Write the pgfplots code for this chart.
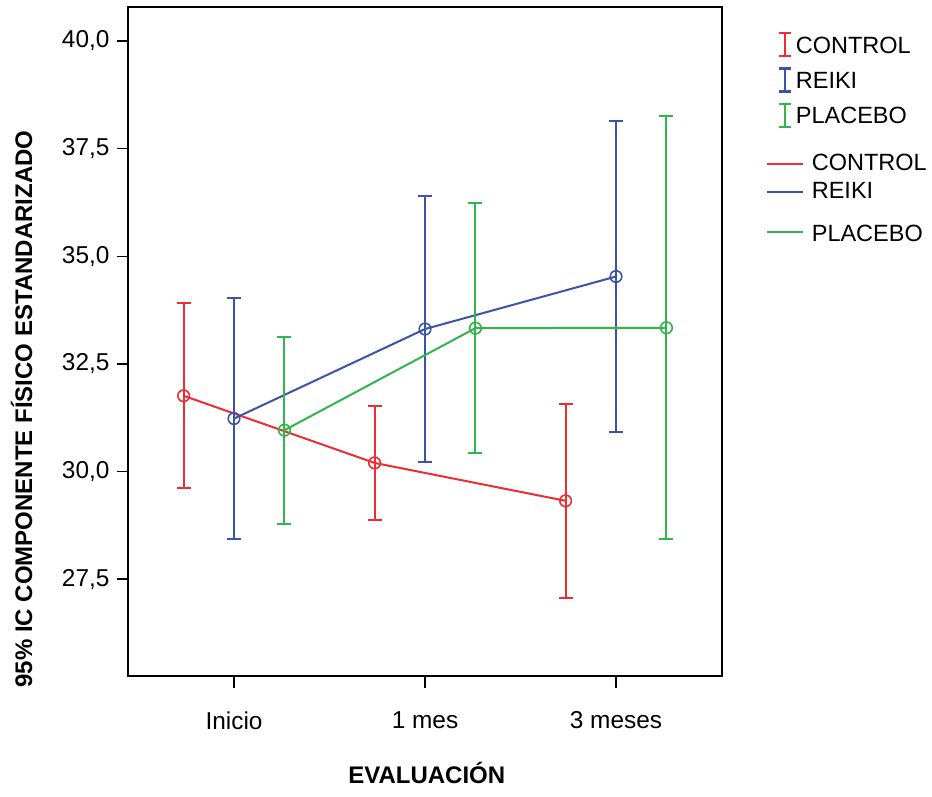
\documentclass[border=0pt]{standalone}
\usepackage{fontspec}
\setmainfont{Liberation Sans}
\usepackage{pgfplots}
\usepackage{pgfplotstable}
\pgfplotsset{compat=1.18}

\definecolor{cred}{RGB}{237,45,52}
\definecolor{cblue}{RGB}{60,84,165}
\definecolor{cgreen}{RGB}{48,182,74}

% media e IC 95% (semiamplitud)
\pgfplotstableread{
x      y     e
-0.264 31.76 2.15
0.736  30.20 1.33
1.736  29.32 2.25
}\control
\pgfplotstableread{
x      y     e
0      31.23 2.79
1      33.31 3.08
2      34.53 3.61
}\reiki
\pgfplotstableread{
x      y     e
0.264  30.96 2.17
1.264  33.33 2.90
2.264  33.34 4.91
}\placebo

\pgfplotsset{
  ebimage/.style={legend image code/.code={
    \draw[##1] (0pt,-5.75pt) -- (0pt,5.75pt);
    \draw[##1] (-3pt,-5.75pt) -- (3pt,-5.75pt);
    \draw[##1] (-3pt,5.75pt) -- (3pt,5.75pt);
    \path (4pt,0pt);}},
  lnimage/.style={legend image code/.code={
    \draw[##1] (0pt,0pt) -- (18pt,0pt);
    \path (21pt,0pt);}},
  lnimagelow/.style={legend image code/.code={
    \draw[##1] (0pt,-2.25pt) -- (18pt,-2.25pt);
    \path (21pt,2.25pt);}},
  serie/.style={forget plot, color=#1, line width=1pt, mark=o, mark size=2.9pt,
    mark options={solid, line width=0.8pt},
    error bars/.cd, y dir=both, y explicit,
    error bar style={line width=1pt},
    error mark options={rotate=90, mark size=3.5pt, line width=1pt},
    /pgfplots/.cd},
  leg/.style={draw=none, fill=none, inner sep=0pt,
    font=\fontsize{11.75}{14}\selectfont, cells={anchor=west}},
}

\begin{document}
\begin{tikzpicture}
\begin{axis}[
  scale only axis, width=297pt, height=334.5pt,
  xmin=-0.555, xmax=2.555, ymin=25.25, ymax=40.79,
  xtick={0,1,2}, xticklabels={Inicio,1 mes,3 meses},
  ytick={27.5,30,32.5,35,37.5,40},
  xtick pos=bottom, ytick pos=left, tick align=outside,
  major tick length=5.75pt,
  every tick/.style={black, line width=0.7pt},
  axis line style={line width=0.9pt},
  /pgf/number format/.cd, fixed, fixed zerofill, precision=1, use comma,
    assume math mode=true, /pgfplots/.cd,
  tick label style={font=\fontsize{12.2}{14}\selectfont},
  xticklabel style={yshift=-8.5pt},
  xlabel={EVALUACIÓN},
  ylabel={95\% IC COMPONENTE FÍSICO ESTANDARIZADO},
  every axis x label/.style={at={(axis description cs:0.503,-0.160)}, anchor=base,
    font=\fontsize{12}{14}\selectfont\bfseries},
  every axis y label/.style={at={(axis description cs:-0.1616,0.399)}, rotate=90, anchor=base,
    font=\fontsize{12}{14}\selectfont\bfseries},
  legend style={leg, nodes={inner sep=1pt, text height=8.5pt, text depth=0pt},
    at={(axis description cs:1.093,0.963)}, anchor=north west, row sep=5pt},
  clip=false,
]
\addplot[serie=cred] table[x=x, y=y, y error=e] {\control};
\addplot[serie=cblue] table[x=x, y=y, y error=e] {\reiki};
\addplot[serie=cgreen] table[x=x, y=y, y error=e] {\placebo};
\addlegendimage{ebimage, cred, line width=1.1pt}
\addlegendentry{CONTROL}
\addlegendimage{ebimage, cblue, line width=1.1pt}
\addlegendentry{REIKI}
\addlegendimage{ebimage, cgreen, line width=1.1pt}
\addlegendentry{PLACEBO}
\path (axis description cs:-0.2155,-0.1794) rectangle (axis description cs:1.3535,1.0105);
\end{axis}
\begin{axis}[
  scale only axis, width=297pt, height=334.5pt, hide axis,
  xmin=0, xmax=1, ymin=0, ymax=1,
  legend style={leg, nodes={inner sep=1pt},
    at={(axis description cs:1.0744,0.784)}, anchor=north west, row sep=2pt},
]
\addlegendimage{lnimage, cred, line width=0.6pt}
\addlegendentry{\rule{0pt}{8.5pt}CONTROL}
\addlegendimage{lnimage, cblue, line width=0.6pt}
\addlegendentry{\rule{0pt}{8.5pt}REIKI}
\addlegendimage{lnimagelow, cgreen, line width=0.6pt}
\addlegendentry{\rule{0pt}{16pt}PLACEBO}
\end{axis}
\end{tikzpicture}
\end{document}
